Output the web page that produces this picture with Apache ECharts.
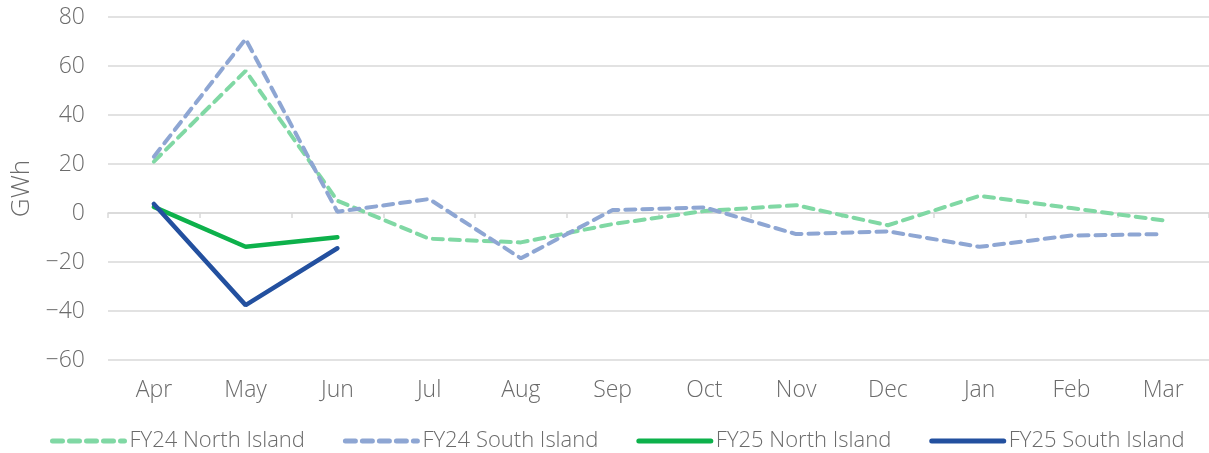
<!DOCTYPE html>
<html>
<head>
<meta charset="utf-8">
<script src="https://cdn.jsdelivr.net/npm/echarts@6/dist/echarts.min.js"></script>
<style>
    html, body { margin: 0; padding: 0; background: #fff; }
    #chart { width: 1209px; height: 453px; }
</style>
</head>
<body>
<div id="chart"></div>
<script>
const months = ['Apr', 'May', 'Jun', 'Jul', 'Aug', 'Sep', 'Oct', 'Nov', 'Dec', 'Jan', 'Feb', 'Mar'];
const fy24North = [21, 58, 5, -10.5, -12, -4.5, 0.8, 3.2, -5, 7, 2, -3];
const fy24South = [23, 71, 0.5, 5.7, -18.5, 1.2, 2.3, -8.6, -7.5, -13.8, -9.2, -8.6];
const fy25North = [2.5, -13.8, -9.9];
const fy25South = [3.7, -37.6, -14.4];

const labelColor = '#6b6b6b';
const gridColor = '#d9d9d9';
const font = 'Open Sans';

let chart = echarts.init(document.getElementById('chart'));

const dashed = (name, data, color) => ({
    name: name,
    type: 'line',
    data: data,
    symbol: 'none',
    xAxisIndex: 0,
    lineStyle: {
        color: color,
        width: 4,
        type: [10, 7],
        cap: 'round'
    },
    itemStyle: { color: color }
});
const solid = (name, data, color) => ({
    name: name,
    type: 'line',
    data: data,
    symbol: 'none',
    xAxisIndex: 0,
    lineStyle: {
        color: color,
        width: 4.5,
        cap: 'round'
    },
    itemStyle: { color: color }
});

const option = {
    animation: false,
    backgroundColor: '#fff',
    grid: {
        left: 108,
        top: 17,
        width: 1111,
        bottom: 93
    },
    legend: {
        left: 45,
        top: 425,
        itemWidth: 72,
        itemHeight: 12,
        itemGap: 38,
        itemStyle: { opacity: 0 },
        lineStyle: { width: 5 },
        textStyle: {
            fontFamily: font,
            fontWeight: 300,
            fontSize: 22,
            color: labelColor
        },
        data: ['FY24 North Island', 'FY24 South Island', 'FY25 North Island', 'FY25 South Island']
    },
    xAxis: [
        {
            // zero line with ticks
            type: 'category',
            data: months,
            axisLine: { onZero: true, lineStyle: { color: gridColor, width: 1.5 } },
            axisTick: { show: true, length: 5, lineStyle: { color: gridColor, width: 1.5 } },
            axisLabel: { show: false }
        },
        {
            // labels at the bottom
            type: 'category',
            data: months,
            position: 'bottom',
            axisLine: { show: false },
            axisTick: { show: false },
            axisLabel: {
                margin: 19,
                fontFamily: font,
                fontWeight: 300,
                fontSize: 23,
                color: labelColor
            }
        }
    ],
    yAxis: {
        type: 'value',
        min: -60,
        max: 80,
        interval: 20,
        name: 'GWh',
        nameLocation: 'middle',
        nameGap: 64,
        nameTextStyle: {
            fontFamily: font,
            fontWeight: 300,
            fontSize: 26,
            color: labelColor
        },
        axisLine: { show: false },
        axisTick: { show: false },
        axisLabel: {
            margin: 23,
            fontFamily: font,
            fontWeight: 300,
            fontSize: 23,
            color: labelColor,
            formatter: v => String(v).replace('-', '\u2212')
        },
        splitLine: { lineStyle: { color: gridColor, width: 1.5 } }
    },
    series: [
        dashed('FY24 North Island', fy24North, '#80d8a4'),
        dashed('FY24 South Island', fy24South, '#8ea6d3'),
        solid('FY25 North Island', fy25North, '#0db14b'),
        solid('FY25 South Island', fy25South, '#23509f')
    ]
};
chart.setOption(option);
</script>
</body>
</html>
